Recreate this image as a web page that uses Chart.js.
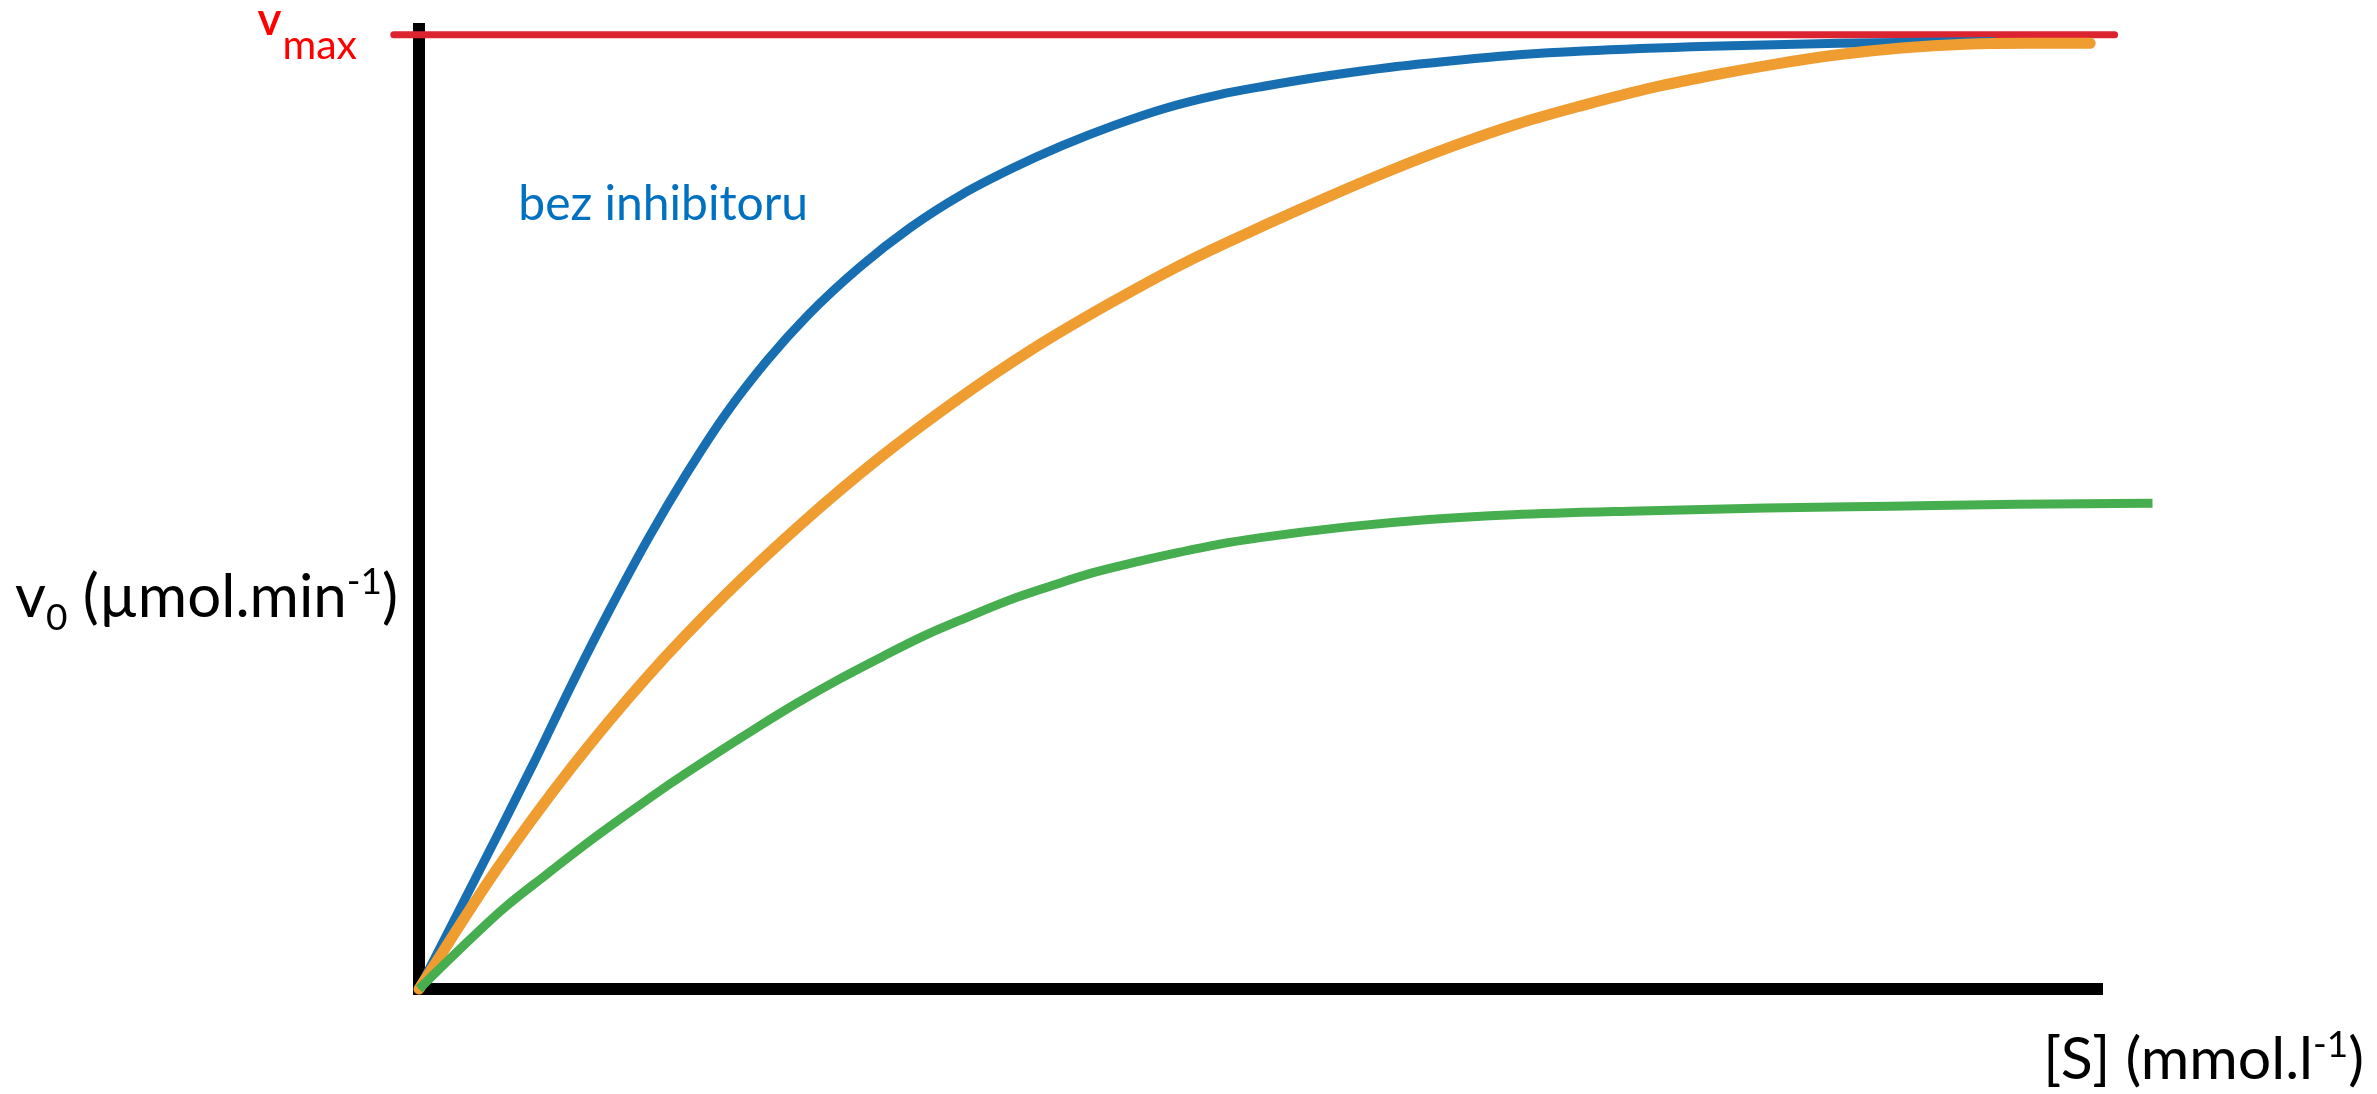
<!DOCTYPE html>
<html>
<head>
<meta charset="utf-8">
<script src="https://cdn.jsdelivr.net/npm/chart.js@4.4.1/dist/chart.umd.min.js"></script>
<style>
  html, body { margin: 0; padding: 0; background: #ffffff; }
  canvas { display: block; }
</style>
</head>
<body>
<canvas id="kinetics" width="2377" height="1094" style="width:2377px;height:1094px"></canvas>
<script>
// Michaelis–Menten saturation curves: v0 as % of vmax against substrate concentration [S]
const VMAX = 100;
const S_MAX = 20;

// without inhibitor
const noInhibitorS = [0, 0.92, 1.37, 1.82, 2.27, 2.73, 3.18, 3.64, 4.14, 4.62, 5.23, 5.84, 6.44, 7.05, 7.65, 8.26, 8.87, 9.5, 10.04, 10.8, 11.55, 12.31, 13.07, 13.83, 15.34, 16.86, 18.72];
const noInhibitorV = [0, 15.9, 23.8, 32.0, 39.8, 47.3, 54.0, 60.2, 65.9, 70.6, 75.6, 79.8, 83.2, 86.0, 88.4, 90.5, 92.3, 93.7, 94.6, 95.7, 96.6, 97.3, 97.9, 98.3, 98.8, 99.1, 99.3];

// competitive inhibitor
const competitiveS = [0, 0.92, 1.82, 2.73, 3.64, 4.55, 5.45, 6.37, 7.28, 8.2, 9.1, 10.04, 10.8, 11.55, 12.31, 13.07, 13.83, 14.58, 15.34, 16.1, 16.86, 17.62, 18.37, 19.13, 19.86];
const competitiveV = [0, 12.5, 23.3, 32.9, 41.3, 48.8, 55.5, 61.6, 67.0, 71.8, 76.1, 80.0, 83.0, 85.8, 88.4, 90.7, 92.6, 94.3, 95.7, 96.9, 97.9, 98.6, 99.0, 99.1, 99.1];

// non-competitive inhibitor
const noncompetitiveS = [0, 0.5, 1, 1.5, 2, 2.5, 3, 3.5, 4, 4.5, 5, 5.5, 6, 6.5, 7, 7.5, 8, 8.5, 9, 9.5, 10, 11, 12, 13, 14.5, 16, 17.5, 19, 20.6];
const noncompetitiveV = [0, 4.3, 8.4, 11.9, 15.3, 18.5, 21.6, 24.5, 27.3, 30.0, 32.5, 34.8, 37.0, 38.9, 40.7, 42.2, 43.6, 44.7, 45.7, 46.6, 47.3, 48.4, 49.2, 49.7, 50.1, 50.4, 50.6, 50.8, 50.9];

// vmax reference line
const vmaxS = [-0.3, 20.15];
const vmaxV = [VMAX, VMAX];

const toPoints = (xs, ys) => xs.map((x, i) => ({ x: x, y: ys[i] }));

const FONT = "Lato, 'Open Sans', 'DejaVu Sans', sans-serif";

// draws a run of text pieces, some of them as subscript or superscript
function drawRich(ctx, parts, x, y, size, color, align) {
  const pieceFont = p => (p.sub || p.sup) ? Math.round(size * 0.62) : size;
  ctx.save();
  ctx.fillStyle = color;
  ctx.textBaseline = 'alphabetic';
  ctx.textAlign = 'left';
  let total = 0;
  parts.forEach(p => {
    ctx.font = pieceFont(p) + 'px ' + FONT;
    p.w = ctx.measureText(p.t).width;
    total += p.w;
  });
  let cx = align === 'right' ? x - total : x;
  parts.forEach(p => {
    ctx.font = pieceFont(p) + 'px ' + FONT;
    let dy = 0;
    if (p.sub) dy = size * 0.22;
    if (p.sup) dy = -size * 0.38;
    ctx.fillText(p.t, cx, y + dy);
    cx += p.w;
  });
  ctx.restore();
}

const labelsPlugin = {
  id: 'kineticsLabels',
  afterDraw(chart) {
    const ctx = chart.ctx;
    const area = chart.chartArea;
    const sx = chart.scales.x;
    const sy = chart.scales.y;
    const vmaxPx = sy.getPixelForValue(VMAX);

    // vmax
    ctx.save();
    ctx.fillStyle = '#ff0000';
    ctx.textBaseline = 'alphabetic';
    ctx.textAlign = 'right';
    ctx.font = '41px ' + FONT;
    const maxRight = area.left - 62;
    ctx.fillText('max', maxRight, vmaxPx + 24);
    const maxW = ctx.measureText('max').width;
    ctx.font = '600 46px ' + FONT;
    ctx.fillText('v', maxRight - maxW - 1, vmaxPx);
    ctx.restore();

    // y axis title
    drawRich(ctx, [
      { t: 'v' }, { t: '0', sub: true }, { t: ' (µmol.min' }, { t: '-1', sup: true }, { t: ')' }
    ], area.left - 21, sy.getPixelForValue(39.0), 60, '#000000', 'right');

    // x axis title
    drawRich(ctx, [
      { t: '[S] (mmol.l' }, { t: '-1', sup: true }, { t: ')' }
    ], area.right + 262, area.bottom + 90, 59, '#000000', 'right');

    // curve label
    ctx.save();
    ctx.fillStyle = '#0070c0';
    ctx.textBaseline = 'alphabetic';
    ctx.textAlign = 'left';
    ctx.font = '48px ' + FONT;
    ctx.fillText('bez inhibitoru', sx.getPixelForValue(1.18), sy.getPixelForValue(80.6));
    ctx.restore();
  }
};

new Chart(document.getElementById('kinetics'), {
  type: 'line',
  data: {
    datasets: [
      {
        label: 'nekompetitivní inhibitor',
        data: toPoints(noncompetitiveS, noncompetitiveV),
        borderColor: '#47ae4f',
        borderWidth: 9,
        borderCapStyle: 'butt',
        cubicInterpolationMode: 'monotone',
        pointRadius: 0,
        clip: false
      },
      {
        label: 'kompetitivní inhibitor',
        data: toPoints(competitiveS, competitiveV),
        borderColor: '#ef9c30',
        borderWidth: 11,
        borderCapStyle: 'round',
        cubicInterpolationMode: 'monotone',
        pointRadius: 0,
        clip: false
      },
      {
        label: 'bez inhibitoru',
        data: toPoints(noInhibitorS, noInhibitorV),
        borderColor: '#176fb1',
        borderWidth: 9,
        borderCapStyle: 'butt',
        cubicInterpolationMode: 'monotone',
        pointRadius: 0,
        clip: false
      },
      {
        label: 'vmax',
        data: toPoints(vmaxS, vmaxV),
        borderColor: '#dc2430',
        borderWidth: 7,
        borderCapStyle: 'round',
        pointRadius: 0,
        clip: false
      }
    ]
  },
  options: {
    responsive: false,
    devicePixelRatio: 1,
    animation: false,
    events: [],
    layout: {
      autoPadding: false,
      padding: { left: 419, right: 275, top: 29, bottom: 105 }
    },
    plugins: {
      legend: { display: false },
      tooltip: { enabled: false },
      title: { display: false }
    },
    scales: {
      x: {
        type: 'linear',
        min: 0,
        max: S_MAX,
        ticks: { display: false },
        grid: { display: false, drawTicks: false },
        border: { display: true, color: '#000000', width: 12 }
      },
      y: {
        type: 'linear',
        min: 0,
        max: 100.6,
        ticks: { display: false },
        grid: { display: false, drawTicks: false },
        border: { display: true, color: '#000000', width: 12 }
      }
    }
  },
  plugins: [labelsPlugin]
});
</script>
</body>
</html>
